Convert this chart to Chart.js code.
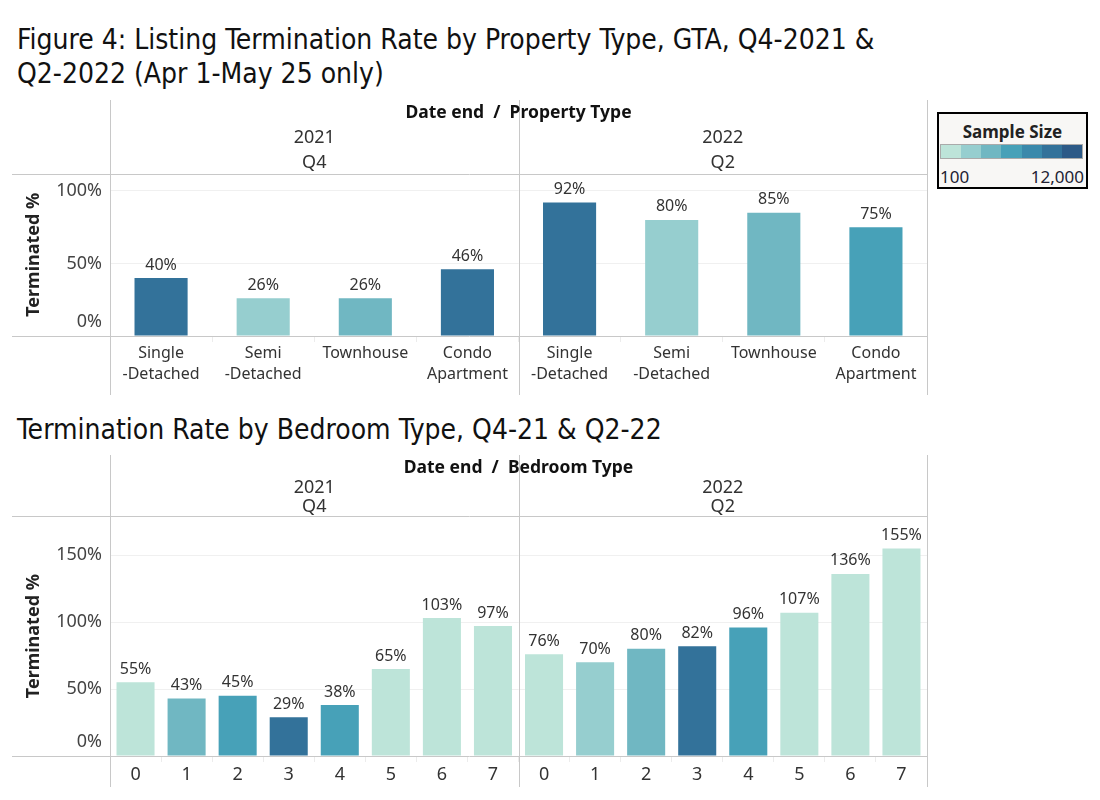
<!DOCTYPE html>
<html>
<head>
<meta charset="utf-8">
<script src="https://cdn.jsdelivr.net/npm/chart.js@4.4.1/dist/chart.umd.min.js"></script>
<style>
  html, body { margin:0; padding:0; background:#fff; }
  body { width:1100px; height:800px; position:relative; overflow:hidden; font-family:"Noto Sans", sans-serif; }
  .title { position:absolute; left:17px; font-family:"Liberation Sans Narrow","DejaVu Sans Condensed",sans-serif; font-size:28px; line-height:34px; color:#111; white-space:nowrap; }
  #t1 { top:23px; }
  #t2 { top:413px; }
  .cwrap { position:absolute; left:0; width:930px; }
  #w1 { top:95px; height:305px; }
  #w2 { top:445px; height:350px; }
  #legend { position:absolute; left:937px; top:112px; width:151px; height:77px; box-sizing:border-box; border:2.5px solid #000; background:#f8f7f5; }
  #legend .lt { position:absolute; left:0; right:0; top:6px; text-align:center; font-weight:bold; font-size:17px; color:#222; }
  #legend .bar { position:absolute; left:1px; top:30px; width:143px; height:15px; border:1px solid #aaa; display:flex; box-sizing:border-box; }
  #legend .bar div { flex:1; }
  #legend .lo, #legend .hi { position:absolute; top:51px; font-size:17px; color:#223; }
  #legend .lo { left:1px; }
  #legend .hi { right:2px; }
</style>
</head>
<body>
<div class="title" id="t1">Figure 4: Listing Termination Rate by Property Type, GTA, Q4-2021 &amp;<br>Q2-2022 (Apr 1-May 25 only)</div>
<div class="title" id="t2">Termination Rate by Bedroom Type, Q4-21 &amp; Q2-22</div>
<div class="cwrap" id="w1"><canvas id="c1"></canvas></div>
<div class="cwrap" id="w2"><canvas id="c2"></canvas></div>
<div id="legend">
  <div class="lt">Sample Size</div>
  <div class="bar" id="lbar"></div>
  <div class="lo">100</div>
  <div class="hi">12,000</div>
</div>
<script>
// ---------- data ----------
const years = ["2021", "2022"];
const quarters = ["Q4", "Q2"];
const propertyTypes = [["Single","-Detached"], ["Semi","-Detached"], "Townhouse", ["Condo","Apartment"]];
const propTerminated2021 = [40, 26, 26, 46];
const propTerminated2022 = [92, 80, 85, 75];
const bedroomTypes = ["0","1","2","3","4","5","6","7"];
const bedTerminated2021 = [55, 43, 45, 29, 38, 65, 103, 97];
const bedTerminated2022 = [76, 70, 80, 82, 96, 107, 136, 155];
const yTicksTop = [0, 50, 100];
const yTicksBottom = [0, 50, 100, 150];
const legendMin = "100";
const legendMax = "12,000";

// ---------- colours (sample-size scale) ----------
const C1 = "#bde4d9", C2 = "#96cecf", C3 = "#70b7c2", C4 = "#47a1b8", C5 = "#3a89ab", C6 = "#33729a", C7 = "#2d5a87";
const legendColors = [C1, C2, C3, C4, C5, C6, C7];
const propColors2021 = [C6, C2, C3, C6];
const propColors2022 = [C6, C2, C3, C4];
const bedColors2021 = [C1, C3, C4, C6, C4, C1, C1, C1];
const bedColors2022 = [C1, C2, C3, C6, C4, C1, C1, C1];

const lbar = document.getElementById("lbar");
legendColors.forEach(c => { const d = document.createElement("div"); d.style.background = c; lbar.appendChild(d); });

const FONT = "'Noto Sans', sans-serif";
const LINE = "#c8c8c8";

const decor = {
  id: "decor",
  afterDraw(chart, args, o) {
    const { ctx, chartArea: a, scales: { x, y } } = chart;
    const H = chart.height;
    const mid = (a.left + a.right) / 2;
    ctx.save();
    // grid frame lines
    ctx.strokeStyle = LINE; ctx.lineWidth = 1;
    ctx.beginPath();
    [a.left, mid, a.right].forEach(px => { ctx.moveTo(Math.round(px) + 0.5, o.vTop); ctx.lineTo(Math.round(px) + 0.5, H - o.vBottom); });
    ctx.moveTo(12, Math.round(a.top) + 0.5); ctx.lineTo(a.right, Math.round(a.top) + 0.5);
    const base = y.getPixelForValue(0);
    ctx.moveTo(12, Math.round(base) + 0.5); ctx.lineTo(a.right, Math.round(base) + 0.5);
    ctx.stroke();
    // headers
    ctx.fillStyle = "#111"; ctx.textAlign = "center"; ctx.textBaseline = "middle";
    ctx.font = "bold 17.5px " + FONT;
    ctx.fillText(o.header, mid, o.hY[0]);
    ctx.font = "18px " + FONT; ctx.fillStyle = "#333";
    const p1 = (a.left + mid) / 2, p2 = (mid + a.right) / 2;
    ctx.fillText(years[0], p1, o.hY[1]); ctx.fillText(quarters[0], p1, o.hY[2]);
    ctx.fillText(years[1], p2, o.hY[1]); ctx.fillText(quarters[1], p2, o.hY[2]);
    // y tick labels
    ctx.textAlign = "right"; ctx.font = "18px " + FONT; ctx.fillStyle = "#444";
    o.ticks.forEach(v => {
      let py = y.getPixelForValue(v);
      if (v === 0) py -= o.zeroShift;
      ctx.fillText(v + "%", 102, py);
    });
    // y title
    ctx.save();
    ctx.translate(34, (a.top + a.bottom) / 2);
    ctx.rotate(-Math.PI / 2);
    ctx.textAlign = "center"; ctx.font = "bold 18px " + FONT; ctx.fillStyle = "#222";
    ctx.fillText("Terminated %", 0, 0);
    ctx.restore();
    // data labels
    const ds = chart.data.datasets[0];
    const meta = chart.getDatasetMeta(0);
    ctx.textAlign = "center"; ctx.textBaseline = "bottom"; ctx.font = o.labelFont; ctx.fillStyle = "#333";
    meta.data.forEach((bar, i) => { ctx.fillText(ds.data[i] + "%", bar.x, bar.y - 5); });
    ctx.restore();
  }
};

function makeChart(id, labels, values, colors, yMax, barPct, xFont, xHeight, padTop, dec) {
  return new Chart(document.getElementById(id), {
    type: "bar",
    data: { labels, datasets: [{ data: values, backgroundColor: colors, categoryPercentage: 1, barPercentage: barPct }] },
    options: {
      responsive: true, maintainAspectRatio: false, animation: false,
      layout: { padding: { top: padTop, left: 0, right: 3, bottom: 0 } },
      plugins: { legend: { display: false }, tooltip: { enabled: false }, decor: dec },
      scales: {
        x: {
          grid: { display: true, drawOnChartArea: false, drawTicks: true, tickLength: 6, color: "#ececec", offset: true },
          border: { display: false },
          ticks: { color: "#333", font: { family: FONT, size: xFont, lineHeight: 1.32 }, padding: 1, maxRotation: 0, autoSkip: false },
          afterFit(s) { s.height = xHeight; }
        },
        y: {
          min: 0, max: yMax,
          afterBuildTicks(s) { s.ticks = dec.ticks.map(v => ({ value: v })); },
          grid: { color: ctx => ctx.tick && ctx.tick.value === 0 ? "rgba(0,0,0,0)" : "#f0f0f0", drawTicks: false },
          border: { display: false },
          ticks: { display: false },
          afterFit(s) { s.width = 110; }
        }
      }
    },
    plugins: [decor]
  });
}

makeChart("c1",
  propertyTypes.concat(propertyTypes),
  propTerminated2021.concat(propTerminated2022),
  propColors2021.concat(propColors2022),
  112, 0.52, 16, 64, 78.5,
  { header: "Date end  /  Property Type", hY: [18, 43, 68], vTop: 5, vBottom: 5, ticks: yTicksTop, zeroShift: 14, labelFont: "16px " + FONT });

makeChart("c2",
  bedroomTypes.concat(bedroomTypes),
  bedTerminated2021.concat(bedTerminated2022),
  bedColors2021.concat(bedColors2022),
  179, 0.745, 18, 39, 71.3,
  { header: "Date end  /  Bedroom Type", hY: [23, 43, 62], vTop: 10, vBottom: 8, ticks: yTicksBottom, zeroShift: 14, labelFont: "16px " + FONT });
</script>
</body>
</html>
